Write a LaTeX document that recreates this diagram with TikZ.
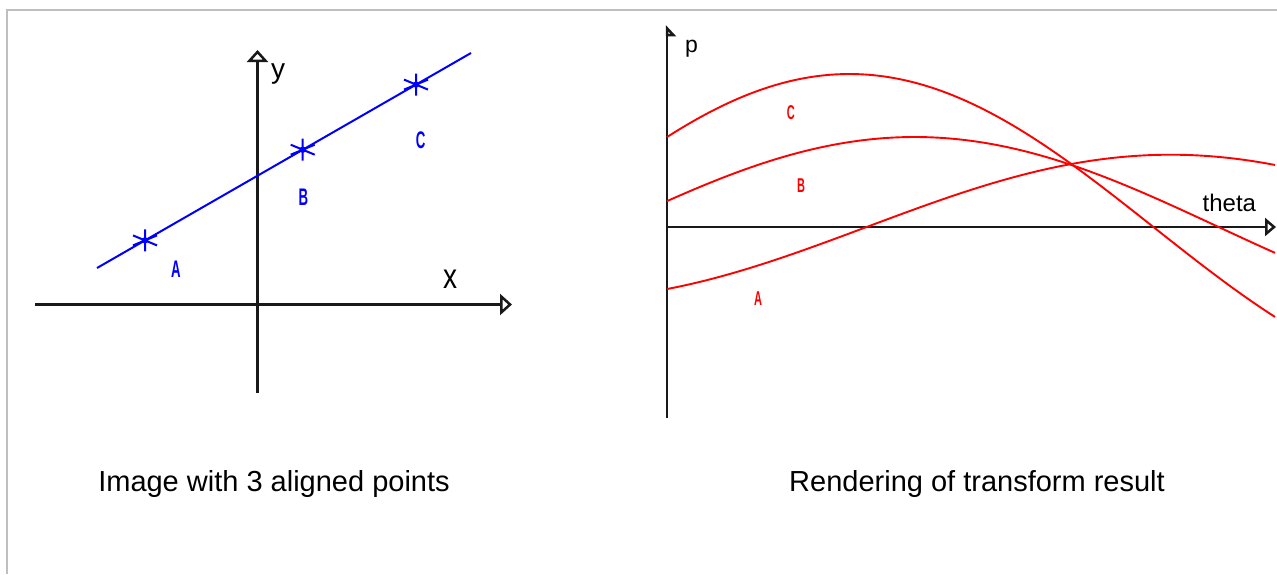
\documentclass[tikz,border=0pt]{standalone}
\usepackage{fontspec}
\setmainfont{Liberation Sans}
\usetikzlibrary{arrows.meta}
\begin{document}
\begin{tikzpicture}[x=1pt,y=-1pt,
  frame/.style={draw=black!25, line width=1.8pt},
  axis/.style={line width=2.5pt, black!90},
  bigarrow/.style={-{Triangle[open, length=12pt, width=21pt, fill=white]}},
  thetaarrow/.style={-{Triangle[open, length=11pt, width=18pt, fill=white]}},
  flagarrow/.style={-{Triangle[open, right, length=10pt, width=18pt, fill=white]}},
  ptline/.style={blue, line width=2pt},
  curve/.style={red, line width=1.9pt},
  axlabel/.style={inner sep=0pt, font=\fontsize{28}{30}\selectfont},
  ptlabel/.style={inner sep=0pt, text=blue, font=\bfseries\fontsize{24}{26}\selectfont},
  crvlabel/.style={inner sep=0pt, text=red, font=\bfseries\fontsize{20}{22}\selectfont},
  caption/.style={inner sep=0pt, anchor=base, font=\fontsize{29}{34}\selectfont},
  starmark/.pic={
    \draw[blue, line width=2pt] (0,-11) -- (0,11) (-12,-5) -- (12,5) (-12,5) -- (12,-5);
    \fill[blue] (0,0) circle (3.2);
  }
]
\useasboundingbox (0,0) rectangle (1277,574);
\fill[white] (0,0) rectangle (1277,574);

% page frame
\coordinate (fbl) at (7,574);
\coordinate (ftl) at (7,10);
\coordinate (ftr) at (1277,10);
\draw[frame] (fbl) -- (ftl) -- (ftr);

% ---------- left picture ----------
\coordinate (yb) at (257.5,393);
\coordinate (yt) at (257.5,50);
\coordinate (xl) at (35,304.5);
\coordinate (xr) at (512,304.5);
\draw[axis, bigarrow] (yb) -- (yt);
\draw[axis, bigarrow] (xl) -- (xr);
\node[axlabel] (ylab) at (278,74) {y};
\node[axlabel] (xlab) at (450,279) {\scalebox{1}[1.25]{x}};

\coordinate (l1) at (97,268);
\coordinate (l2) at (471,53);
\draw[ptline] (l1) -- (l2);
\coordinate (pA) at (145,240.4);
\coordinate (pB) at (302.7,149.7);
\coordinate (pC) at (416,84.6);
\pic at (pA) {starmark};
\pic at (pB) {starmark};
\pic at (pC) {starmark};
\node[ptlabel] (lA) at (176,269.5) {\scalebox{0.55}[1]{A}};
\node[ptlabel] (lB) at (303.3,197) {\scalebox{0.55}[1]{B}};
\node[ptlabel] (lC) at (420.7,140.5) {\scalebox{0.55}[1]{C}};

\node[caption] (cap1) at (274,491) {Image with 3 aligned points};

% ---------- right picture ----------
\coordinate (pb) at (667,418);
\coordinate (pt) at (667,25);
\coordinate (tl) at (667,227);
\coordinate (tr) at (1276,227);
\draw[axis, flagarrow] (pb) -- (pt);
\draw[axis, thetaarrow] (tl) -- (tr);
\node[inner sep=0pt, font=\fontsize{23}{25}\selectfont] (plab) at (691.5,49) {p};
\node[inner sep=0pt, anchor=base west, font=\fontsize{24}{26}\selectfont] (thlab) at (1202.5,211.5) {theta};

\draw[curve] plot[domain=0:180, samples=90, smooth] ({667+3.37778*\x},{227-153*cos(\x-54)});
\draw[curve] plot[domain=0:180, samples=90, smooth] ({667+3.37778*\x},{227-90*cos(\x-73.3)});
\draw[curve] plot[domain=0:180, samples=90, smooth] ({667+3.37778*\x},{227-72.3*cos(\x-149.1)});

\node[crvlabel] (cC) at (790.8,112.7) {\scalebox{0.55}[1]{C}};
\node[crvlabel] (cB) at (801,186) {\scalebox{0.55}[1]{B}};
\node[crvlabel] (cA) at (758,299) {\scalebox{0.55}[1]{A}};

\node[caption] (cap2) at (977,491) {Rendering of transform result};
\end{tikzpicture}
\end{document}
